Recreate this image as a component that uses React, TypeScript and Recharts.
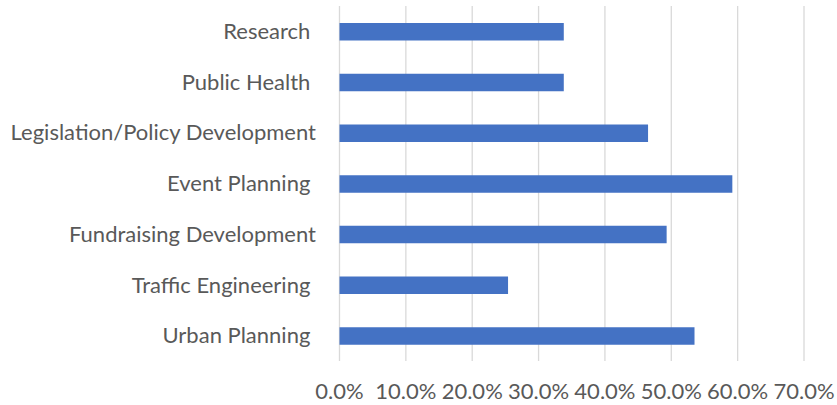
import { BarChart, Bar, XAxis, YAxis, CartesianGrid } from "recharts";

// Category labels keep their trailing spaces, as in the source sheet.
const categories = [
  "Research ",
  "Public Health ",
  "Legislation/Policy Development",
  "Event Planning ",
  "Fundraising Development",
  "Traffic Engineering ",
  "Urban Planning ",
];
const shares = [0.338, 0.338, 0.465, 0.592, 0.493, 0.254, 0.535];
const xTicks = [0, 0.1, 0.2, 0.3, 0.4, 0.5, 0.6, 0.7];

const data = categories.map((name, i) => ({ name, value: shares[i] }));

const FONT = "Lato, 'Open Sans', sans-serif";
const TEXT = "#595959";

function CategoryTick({ x, y, payload }: any) {
  return (
    <text
      x={x}
      y={y}
      dy="0.35em"
      textAnchor="end"
      fill={TEXT}
      fontSize={22}
      fontFamily={FONT}
      style={{ whiteSpace: "pre" }}
    >
      {payload.value}
    </text>
  );
}

function PercentTick({ x, y, payload }: any) {
  return (
    <text x={x} y={y} dy={30} textAnchor="middle" fill={TEXT} fontSize={22} fontFamily={FONT}>
      {(payload.value * 100).toFixed(1) + "%"}
    </text>
  );
}

export default function App() {
  return (
    <div style={{ width: 837, height: 405, background: "#fff" }}>
      <style>{"body{margin:0}"}</style>
      <BarChart
        width={837}
        height={405}
        data={data}
        layout="vertical"
        margin={{ top: 6, right: 33, bottom: 0, left: 0 }}
      >
        <CartesianGrid horizontal={false} stroke="#d9d9d9" strokeWidth={1.3} />
        <XAxis
          type="number"
          domain={[0, 0.7]}
          ticks={xTicks}
          axisLine={false}
          tickLine={false}
          tick={<PercentTick />}
          height={44}
          interval={0}
        />
        <YAxis
          type="category"
          dataKey="name"
          width={339.5}
          axisLine={false}
          tickLine={false}
          tickMargin={17.5}
          tick={<CategoryTick />}
          interval={0}
        />
        <Bar dataKey="value" fill="#4472c4" barSize={17.5} isAnimationActive={false} />
      </BarChart>
    </div>
  );
}
